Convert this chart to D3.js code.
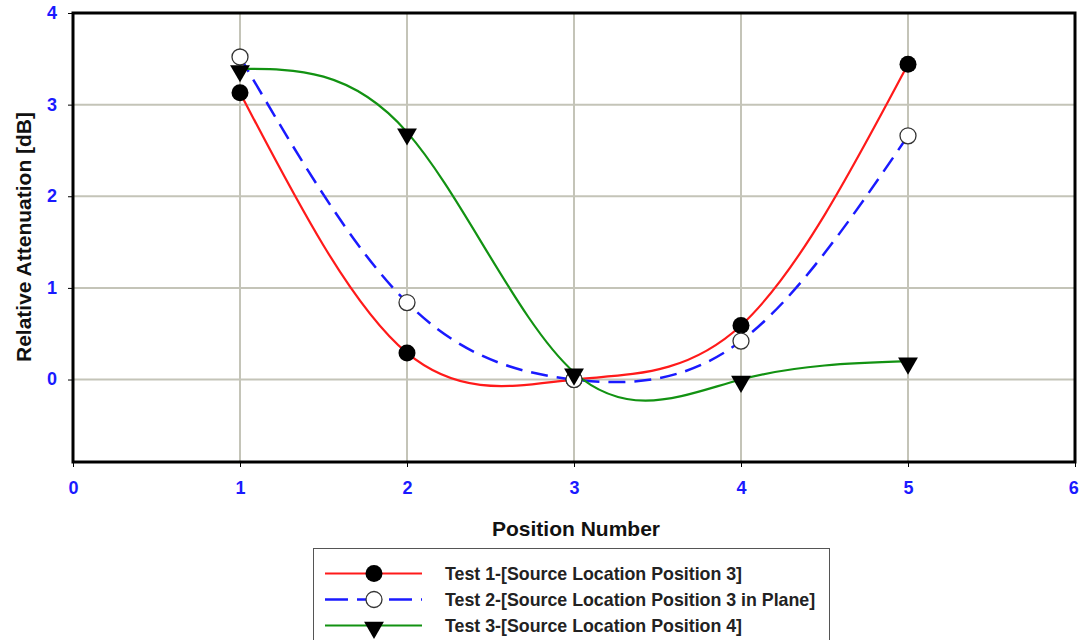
<!DOCTYPE html>
<html>
<head>
<meta charset="utf-8">
<script src="https://cdn.jsdelivr.net/npm/d3@7"></script>
<style>
  html, body { margin: 0; padding: 0; background: #fff; }
  svg { display: block; font-family: "Liberation Sans", Arial, sans-serif; }
</style>
</head>
<body>
<svg id="chart" width="1080" height="640"></svg>
<script>
// Position numbers along the x axis
const positions = [1, 2, 3, 4, 5];
// Relative attenuation [dB] per test
const test1 = [3.13, 0.29, 0.00, 0.59, 3.44];
const test2 = [3.52, 0.84, 0.00, 0.42, 2.66];
const test3 = [3.39, 2.70, 0.08, 0.00, 0.20];
const seriesNames = [
  "Test 1-[Source Location Position 3]",
  "Test 2-[Source Location Position 3 in Plane]",
  "Test 3-[Source Location Position 4]"
];
const xTicks = [0, 1, 2, 3, 4, 5, 6];
const yTicks = [0, 1, 2, 3, 4];

const svg = d3.select("#chart");
const plot = { left: 73, right: 1075, top: 13, bottom: 462 };

const x = d3.scaleLinear().domain([0, 6]).range([plot.left, plot.right]);
const y = d3.scaleLinear().domain([-0.9, 4]).range([plot.bottom, plot.top]);

// grid
const grid = svg.append("g");
grid.selectAll("line.v").data(xTicks.slice(1, -1)).join("line")
  .attr("x1", d => x(d)).attr("x2", d => x(d))
  .attr("y1", plot.top).attr("y2", plot.bottom)
  .attr("stroke", "#c4c4b8").attr("stroke-width", 2);
grid.selectAll("line.h").data(yTicks.slice(0, -1)).join("line")
  .attr("x1", plot.left).attr("x2", plot.right)
  .attr("y1", d => y(d)).attr("y2", d => y(d))
  .attr("stroke", "#c4c4b8").attr("stroke-width", 2);

// axes
const xAxis = svg.append("g")
  .attr("transform", `translate(0,${plot.bottom})`)
  .call(d3.axisBottom(x).tickValues(xTicks).tickFormat(d3.format("d")).tickSize(5).tickPadding(16));
const yAxis = svg.append("g")
  .attr("transform", `translate(${plot.left},0)`)
  .call(d3.axisLeft(y).tickValues(yTicks).tickFormat(d3.format("d")).tickSize(5).tickPadding(11));
[xAxis, yAxis].forEach(a => {
  a.attr("font-size", null).attr("font-family", null);
  a.select(".domain").remove();
  a.selectAll(".tick line").attr("stroke", "#000").attr("stroke-width", 1);
  a.selectAll(".tick text")
    .style("font-size", "18px").style("font-weight", "bold")
    .style("font-family", "'Liberation Sans', Arial, sans-serif")
    .style("fill", "#1a1aff");
});
xAxis.selectAll(".tick text").attr("dy", "0.6em");
xAxis.selectAll(".tick text").filter(d => d === 6).attr("dx", "-0.1em");
yAxis.selectAll(".tick text").attr("dy", "0.3em");

// plot frame
svg.append("rect")
  .attr("x", plot.left).attr("y", plot.top)
  .attr("width", plot.right - plot.left).attr("height", plot.bottom - plot.top)
  .attr("fill", "none").attr("stroke", "#000").attr("stroke-width", 3);

// axis titles
svg.append("text")
  .attr("x", x(3) + 2).attr("y", 536)
  .attr("text-anchor", "middle").attr("font-weight", "bold").attr("font-size", 21)
  .attr("fill", "#111").text("Position Number");
svg.append("text")
  .attr("transform", `translate(31,237) rotate(-90)`)
  .attr("text-anchor", "middle").attr("font-weight", "bold").attr("font-size", 21)
  .attr("fill", "#111").text("Relative Attenuation [dB]");

const styles = [
  { values: test1, color: "#ff1a1a", dash: null, width: 2.2, marker: "dot" },
  { values: test2, color: "#1a1aff", dash: "17,9", width: 2.5, marker: "open" },
  { values: test3, color: "#129212", dash: null, width: 2.2, marker: "tri" }
];

// natural cubic spline through the measured points
const line = d3.line().x(d => x(d[0])).y(d => y(d[1])).curve(d3.curveNatural);
const tri = d3.symbol().type(d3.symbolTriangle).size(170);

function drawMarker(g, kind, cx, cy) {
  if (kind === "dot") {
    g.append("circle").attr("cx", cx).attr("cy", cy).attr("r", 8.5).attr("fill", "#000");
  } else if (kind === "open") {
    g.append("circle").attr("cx", cx).attr("cy", cy).attr("r", 8)
      .attr("fill", "#fff").attr("stroke", "#333").attr("stroke-width", 1.3);
  } else {
    g.append("path").attr("d", tri)
      .attr("transform", `translate(${cx},${cy + 2}) rotate(180)`).attr("fill", "#000");
  }
}

const linesG = svg.append("g");
const marksG = svg.append("g");
styles.forEach(s => {
  const pts = positions.map((p, i) => [p, s.values[i]]);
  linesG.append("path").datum(pts).attr("d", line)
    .attr("fill", "none").attr("stroke", s.color).attr("stroke-width", s.width)
    .attr("stroke-dasharray", s.dash);
  pts.forEach(p => drawMarker(marksG, s.marker, x(p[0]), y(p[1])));
});

// legend
const lg = svg.append("g");
lg.append("rect").attr("x", 313.5).attr("y", 548.5).attr("width", 516).attr("height", 100)
  .attr("fill", "#fff").attr("stroke", "#555").attr("stroke-width", 1);
styles.forEach((s, i) => {
  const ly = 573.5 + i * 26;
  lg.append("line").attr("x1", 325).attr("x2", 422).attr("y1", ly).attr("y2", ly)
    .attr("stroke", s.color).attr("stroke-width", s.width)
    .attr("stroke-dasharray", s.dash ? "23,9" : null);
  drawMarker(lg, s.marker, 374, ly);
  lg.append("text").attr("x", 445).attr("y", ly + 6.5).attr("font-weight", "bold")
    .attr("font-size", 17.8).attr("fill", "#222").text(seriesNames[i]);
});
</script>
</body>
</html>
